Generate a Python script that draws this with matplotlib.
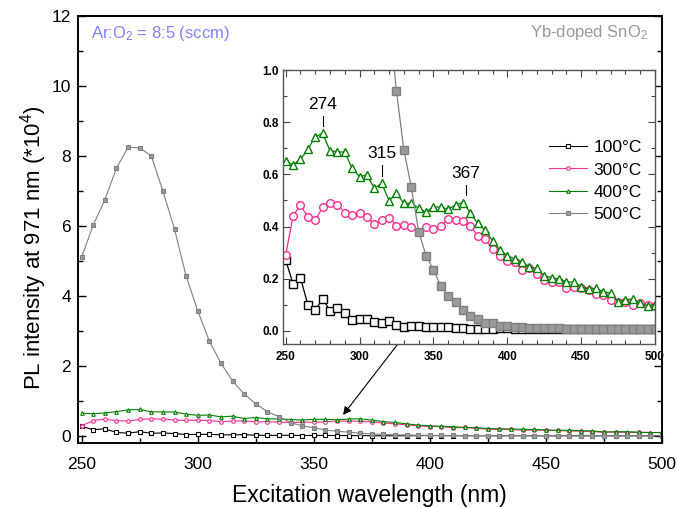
import numpy as np
import matplotlib
matplotlib.use('Agg')
import matplotlib.pyplot as plt
from matplotlib.ticker import MultipleLocator

plt.rcParams['font.family'] = ['Liberation Sans', 'DejaVu Sans']
plt.rcParams['mathtext.fontset'] = 'custom'
plt.rcParams['mathtext.rm'] = 'Liberation Sans'
plt.rcParams['mathtext.it'] = 'Liberation Sans'
plt.rcParams['mathtext.bf'] = 'Liberation Sans:bold'

######### data (PL intensity, x10^4) #########
wavelength = list(range(250, 505, 5))

pl_100 = [0.272, 0.180, 0.204, 0.100, 0.080, 0.123, 0.078, 0.087, 0.068, 0.040,
          0.045, 0.047, 0.033, 0.032, 0.036, 0.022, 0.015, 0.019, 0.018, 0.013,
          0.015, 0.015, 0.013, 0.011, 0.011, 0.006, 0.006, 0.006, 0.006, 0.010,
          0.011, 0.008, 0.007, 0.007, 0.006, 0.007, 0.006, 0.006, 0.007, 0.006,
          0.006, 0.006, 0.006, 0.007, 0.006, 0.006, 0.006, 0.006, 0.006, 0.006,
          0.006]

pl_300 = [0.291, 0.442, 0.481, 0.438, 0.425, 0.474, 0.489, 0.483, 0.453, 0.444,
          0.453, 0.438, 0.410, 0.425, 0.432, 0.404, 0.406, 0.397, 0.381, 0.397,
          0.390, 0.402, 0.428, 0.425, 0.423, 0.402, 0.364, 0.352, 0.313, 0.287,
          0.268, 0.266, 0.234, 0.243, 0.217, 0.195, 0.189, 0.189, 0.163, 0.170,
          0.166, 0.157, 0.142, 0.138, 0.119, 0.112, 0.112, 0.099, 0.106, 0.099,
          0.095]

pl_400 = [0.651, 0.636, 0.658, 0.696, 0.745, 0.757, 0.691, 0.687, 0.685, 0.623,
          0.591, 0.598, 0.547, 0.566, 0.499, 0.527, 0.489, 0.489, 0.470, 0.455,
          0.476, 0.474, 0.467, 0.483, 0.492, 0.453, 0.412, 0.387, 0.346, 0.310,
          0.289, 0.276, 0.266, 0.244, 0.240, 0.212, 0.204, 0.199, 0.189, 0.186,
          0.170, 0.161, 0.163, 0.151, 0.144, 0.112, 0.119, 0.123, 0.106, 0.097,
          0.101]

pl_500 = [5.11, 6.03, 6.75, 7.65, 8.25, 8.23, 8.00, 7.00, 5.91, 4.57,
          3.58, 2.71, 2.08, 1.57, 1.20, 0.918, 0.694, 0.553, 0.381, 0.289,
          0.234, 0.172, 0.134, 0.110, 0.079, 0.057, 0.045, 0.032, 0.029, 0.019,
          0.017, 0.016, 0.014, 0.012, 0.012, 0.011, 0.010, 0.010, 0.009, 0.009,
          0.009, 0.008, 0.008, 0.008, 0.008, 0.008, 0.007, 0.007, 0.007, 0.007,
          0.007]

labels = ['100°C', '300°C', '400°C', '500°C']
colors = ['black', '#ff2d8f', '#008000', '#808080']
markers = ['s', 'o', '^', 's']
faces = ['white', 'white', 'white', '#9a9a9a']
series = [pl_100, pl_300, pl_400, pl_500]

# peak marks in the inset
peak_text = ['274', '315', '367']
peak_x = [275, 315, 372]
peak_y = [0.76, 0.57, 0.495]

fig = plt.figure(figsize=(6.77, 5.08), dpi=100)
ax = fig.add_axes([0.1148, 0.128, 0.863, 0.8406])

main_lines = []
for y, c, m, fc, lab in zip(series, colors, markers, faces, labels):
    l, = ax.plot(wavelength, y, color=c, marker=m, ms=2.6, mfc=fc, mec=c,
                 mew=0.8, lw=0.8, label=lab)
    main_lines.append(l)

ax.set_xlim(248.3, 500)
ax.set_ylim(-0.2, 12)
ax.xaxis.set_major_locator(MultipleLocator(50))
ax.xaxis.set_minor_locator(MultipleLocator(25))
ax.yaxis.set_major_locator(MultipleLocator(2))
ax.yaxis.set_minor_locator(MultipleLocator(1))
ax.tick_params(which='both', direction='in', top=False, right=True, labelsize=12.5, width=1)
ax.tick_params(which='major', length=6, pad=10)
ax.tick_params(which='minor', length=3.5)
ax.tick_params(axis='y', which='major', pad=5)
for s in ax.spines.values():
    s.set_linewidth(1.4)
ax.set_xlabel('Excitation wavelength (nm)', fontsize=16.5, labelpad=9)
ax.set_ylabel('PL intensity at 971 nm (*10$^4$)', fontsize=16)
ax.yaxis.set_label_coords(-0.05, 0.457)

ax.text(0.023, 0.960, 'Ar:O$_2$ = 8:5 (sccm)', transform=ax.transAxes,
        color='#8080ff', fontsize=12, va='center', ha='left')
ax.text(0.976, 0.962, 'Yb-doped SnO$_2$', transform=ax.transAxes,
        color='#999999', fontsize=12, va='center', ha='right')

######### inset #########
axin = fig.add_axes([0.4185, 0.323, 0.549, 0.539])
for y, c, m, fc in zip(series, colors, markers, faces):
    axin.plot(wavelength, y, color=c, marker=m, ms=5.5, mfc=fc, mec=c, mew=1, lw=0.9)

axin.set_xlim(248.4, 500)
axin.set_ylim(-0.05, 1.0)
axin.xaxis.set_major_locator(MultipleLocator(50))
axin.xaxis.set_minor_locator(MultipleLocator(10))
axin.yaxis.set_major_locator(MultipleLocator(0.2))
axin.yaxis.set_minor_locator(MultipleLocator(0.1))
axin.tick_params(which='both', direction='in', top=True, right=True, width=0.8, color='#444444')
axin.tick_params(which='major', length=5)
axin.tick_params(which='minor', length=3)
axin.tick_params(axis='x', pad=5)
axin.tick_params(axis='y', pad=3)
for t in axin.get_xticklabels() + axin.get_yticklabels():
    t.set_fontsize(8.5)
    t.set_fontweight('bold')
for s in axin.spines.values():
    s.set_linewidth(1)
    s.set_color('#555555')

for txt, px, py in zip(peak_text, peak_x, peak_y):
    axin.plot([px, px], [py + 0.025, py + 0.065], color='black', lw=0.8)
    axin.text(px, py + 0.08, txt, fontsize=12.5, ha='center', va='bottom')

axin.legend(handles=main_lines, loc='center left', bbox_to_anchor=(0.715, 0.595),
            frameon=False, fontsize=12.5, handlelength=2.2, handletextpad=0.35,
            labelspacing=0.4, borderpad=0, borderaxespad=0, markerscale=1.0)

ax.annotate('', xy=(362.6, 0.6), xycoords='data', xytext=(326, -0.05),
            textcoords=axin.transData,
            arrowprops=dict(arrowstyle='-|>', color='black', lw=0.8,
                            shrinkA=0, shrinkB=0, mutation_scale=12))

plt.savefig('out.png', dpi=100)
